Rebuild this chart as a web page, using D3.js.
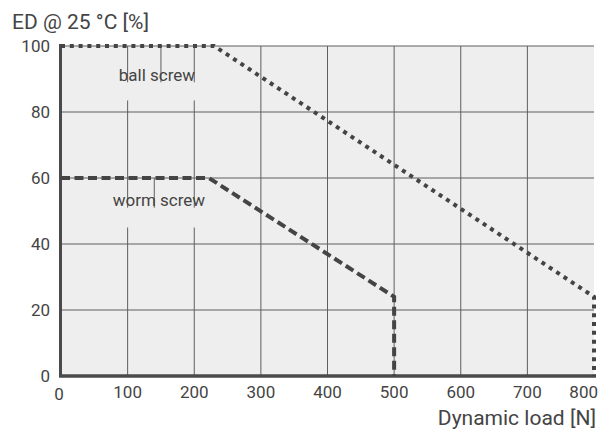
<!DOCTYPE html>
<html>
<head>
<meta charset="utf-8">
<script src="https://cdn.jsdelivr.net/npm/d3@7"></script>
<style>
  html, body { margin: 0; padding: 0; background: #fff; }
  svg text { font-family: Roboto, "Liberation Sans", sans-serif; fill: #444; }
</style>
</head>
<body>
<div id="chart"></div>
<script>

// duty cycle ED @ 25 °C [%] vs dynamic load [N]
const xTicks = [0, 100, 200, 300, 400, 500, 600, 700, 800];
const yTicks = [0, 20, 40, 60, 80, 100];

const ballScrew = [[0, 100], [230, 100], [800, 24], [800, 0]];
const wormScrew = [[0, 60], [222, 60], [500, 24], [500, 0]];

// label anchors in data units: text centre, leader x, top of leader
const labels = [
    { name: 'ball screw', x: 144, y: 89.5, leaderX: 150, leaderTop: 100, boxX0: 75, boxX1: 215, boxY0: 89, boxY1: 83.5 },
    { name: 'worm screw', x: 147, y: 51.5, leaderX: 140, leaderTop: 60, boxX0: 75, boxX1: 215, boxY0: 51, boxY1: 45 }
];

const width = 606, height = 430;
const margin = { top: 46, right: 12, bottom: 54, left: 61 };

const svg = d3.select('#chart')
    .append('svg')
    .attr('width', width)
    .attr('height', height);

const x = d3.scaleLinear()
    .domain([0, 800])
    .range([margin.left, width - margin.right]);

const y = d3.scaleLinear()
    .domain([0, 100])
    .range([height - margin.bottom, margin.top]);

// plot background
svg.append('rect')
    .attr('x', x(0))
    .attr('y', y(100))
    .attr('width', x(800) - x(0))
    .attr('height', y(0) - y(100))
    .style('fill', '#eeeeee');

// grid
svg.append('g')
    .selectAll('line')
    .data(xTicks.filter(d => d > 0 && d < 800))
    .enter()
        .append('line')
        .attr('x1', d => x(d))
        .attr('x2', d => x(d))
        .attr('y1', y(0))
        .attr('y2', y(100))
        .style('stroke', '#5e5e5e')
        .style('stroke-width', 1);

svg.append('g')
    .selectAll('line')
    .data(yTicks.filter(d => d > 0))
    .enter()
        .append('line')
        .attr('x1', x(0))
        .attr('x2', x(800))
        .attr('y1', d => y(d))
        .attr('y2', d => y(d))
        .style('stroke', '#5e5e5e')
        .style('stroke-width', 1);

// label boxes hide the grid lines under the text
const lab = svg.append('g');

lab.selectAll('rect')
    .data(labels)
    .enter()
        .append('rect')
        .attr('x', d => x(d.boxX0))
        .attr('y', d => y(d.boxY0))
        .attr('width', d => x(d.boxX1) - x(d.boxX0))
        .attr('height', d => y(d.boxY1) - y(d.boxY0))
        .style('fill', '#eeeeee');

lab.selectAll('line')
    .data(labels)
    .enter()
        .append('line')
        .attr('x1', d => x(d.leaderX))
        .attr('x2', d => x(d.leaderX))
        .attr('y1', d => y(d.leaderTop))
        .attr('y2', d => y(d.boxY0))
        .style('stroke', '#5e5e5e')
        .style('stroke-width', 1);

lab.selectAll('text')
    .data(labels)
    .enter()
        .append('text')
        .attr('x', d => x(d.x))
        .attr('y', d => y(d.y))
        .attr('text-anchor', 'middle')
        .style('font-size', '17px')
        .text(d => d.name);

// axes lines
svg.append('line')
    .attr('x1', x(0) - 0.5)
    .attr('x2', x(0) - 0.5)
    .attr('y1', y(100) - 2)
    .attr('y2', y(0) + 1)
    .style('stroke', '#4a4a4a')
    .style('stroke-width', 3);

svg.append('line')
    .attr('x1', x(0) - 2)
    .attr('x2', x(800) + 2)
    .attr('y1', y(0))
    .attr('y2', y(0))
    .style('stroke', '#4a4a4a')
    .style('stroke-width', 3.5);

// curves
const line = d3.line()
    .x(d => x(d[0]))
    .y(d => y(d[1]));

svg.append('path')
    .datum(ballScrew)
    .attr('d', line)
    .style('fill', 'none')
    .style('stroke', '#444')
    .style('stroke-width', 4)
    .style('stroke-dasharray', '4,4.8');

svg.append('path')
    .datum(wormScrew)
    .attr('d', line)
    .style('fill', 'none')
    .style('stroke', '#444')
    .style('stroke-width', 4)
    .style('stroke-dasharray', '9,4.5');

// tick labels
svg.append('g')
    .selectAll('text')
    .data(yTicks)
    .enter()
        .append('text')
        .attr('x', x(0) - 11)
        .attr('y', d => y(d))
        .attr('dy', '0.36em')
        .attr('text-anchor', 'end')
        .style('font-size', '17px')
        .text(d => d);

svg.append('g')
    .selectAll('text')
    .data(xTicks)
    .enter()
        .append('text')
        .attr('x', d => d === 800 ? x(d) + 4 : x(d) - (d === 0 ? 2 : 0))
        .attr('y', d => y(0) + (d === 0 ? 24 : 22))
        .attr('text-anchor', d => d === 800 ? 'end' : 'middle')
        .style('font-size', '17px')
        .text(d => d);

// axis titles
svg.append('text')
    .attr('x', 12)
    .attr('y', 29)
    .style('font-size', '21px')
    .text('ED @ 25 °C [%]');

svg.append('text')
    .attr('x', 596)
    .attr('y', 425)
    .attr('text-anchor', 'end')
    .style('font-size', '21px')
    .text('Dynamic load [N]');

</script>
</body>
</html>
